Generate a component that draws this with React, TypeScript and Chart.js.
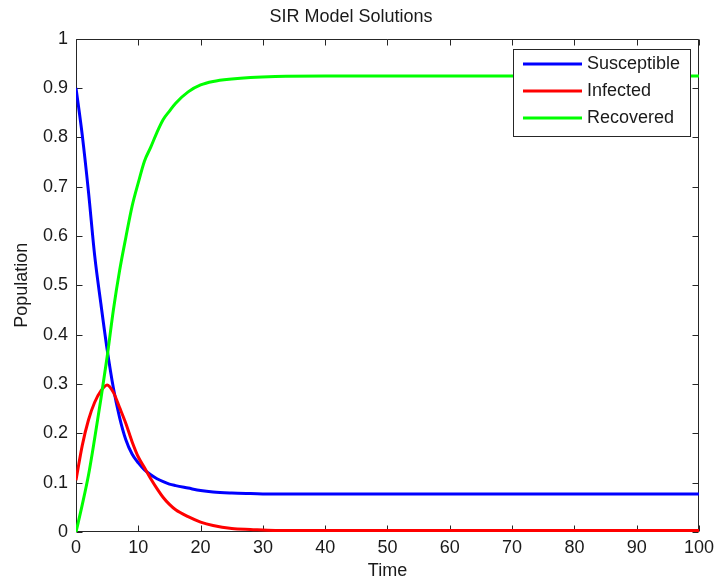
import React, { useEffect, useRef } from "react";
import { Chart, registerables } from "chart.js";

Chart.register(...registerables);

const chartTitle = "SIR Model Solutions";
const xAxisTitle = "Time";
const yAxisTitle = "Population";

const timePoints = [0, 1, 2, 3, 4, 5, 6, 7, 8, 9, 10, 11, 12, 13, 14, 15, 16, 18, 20, 22, 25, 28, 32, 40, 50, 60, 70, 80, 90, 100];
const susceptible = [0.9, 0.805, 0.69, 0.56, 0.462, 0.37, 0.292, 0.232, 0.187, 0.158, 0.14, 0.126, 0.116, 0.108, 0.102, 0.097, 0.094, 0.089, 0.084, 0.081, 0.079, 0.078, 0.077, 0.077, 0.077, 0.077, 0.077, 0.077, 0.077, 0.077];
const infected = [0.105, 0.175, 0.227, 0.263, 0.286, 0.298, 0.283, 0.252, 0.22, 0.183, 0.152, 0.13, 0.108, 0.088, 0.07, 0.056, 0.045, 0.031, 0.02, 0.013, 0.007, 0.005, 0.003, 0.003, 0.003, 0.003, 0.003, 0.003, 0.003, 0.003];
const recovered = [0, 0.055, 0.115, 0.19, 0.27, 0.355, 0.45, 0.53, 0.597, 0.66, 0.708, 0.752, 0.78, 0.81, 0.836, 0.853, 0.869, 0.892, 0.906, 0.913, 0.918, 0.921, 0.923, 0.924, 0.924, 0.924, 0.924, 0.924, 0.924, 0.924];

const seriesLabels = ["Susceptible", "Infected", "Recovered"];
const seriesColors = ["#0000ff", "#ff0000", "#00ff00"];

const xTicks = [0, 10, 20, 30, 40, 50, 60, 70, 80, 90, 100];
const yTicks = [0, 0.1, 0.2, 0.3, 0.4, 0.5, 0.6, 0.7, 0.8, 0.9, 1];

const FONT_FAMILY = "'Liberation Sans', Arial, Helvetica, sans-serif";
const TEXT_COLOR = "#1a1a1a";
const AXIS_COLOR = "#262626";

const framePlugin = {
  id: "matlabFrame",
  beforeDatasetsDraw(chart: any) {
    const { ctx, chartArea, scales } = chart;
    const { left, top, right, bottom } = chartArea;
    const L = Math.round(left) + 0.5;
    const R = Math.round(right) - 0.5;
    const T = Math.round(top) + 0.5;
    const B = Math.round(bottom) - 0.5;
    const tickLen = 6;
    ctx.save();
    ctx.strokeStyle = AXIS_COLOR;
    ctx.lineWidth = 1;
    ctx.beginPath();
    ctx.rect(L, T, R - L, B - T);
    for (const v of xTicks) {
      const px = Math.round(scales.x.getPixelForValue(v)) + 0.5;
      ctx.moveTo(px, B);
      ctx.lineTo(px, B - tickLen);
      ctx.moveTo(px, T);
      ctx.lineTo(px, T + tickLen);
    }
    for (const v of yTicks) {
      const py = Math.round(scales.y.getPixelForValue(v)) + 0.5;
      ctx.moveTo(L, py);
      ctx.lineTo(L + tickLen, py);
      ctx.moveTo(R, py);
      ctx.lineTo(R - tickLen, py);
    }
    ctx.stroke();
    ctx.restore();
  },
  afterDatasetsDraw(chart: any) {
    const { ctx, chartArea } = chart;
    const { right, top } = chartArea;
    ctx.save();
    ctx.font = `18px ${FONT_FAMILY}`;
    const textW = Math.max(...seriesLabels.map((s) => ctx.measureText(s).width));
    const padL = 10;
    const lineLen = 59;
    const gap = 5;
    const padR = 10;
    const rowH = 27;
    const boxW = padL + lineLen + gap + textW + padR;
    const boxH = 87;
    const boxRight = Math.round(right) - 9;
    const boxTop = Math.round(top) + 10;
    const boxLeft = Math.round(boxRight - boxW);
    ctx.fillStyle = "#ffffff";
    ctx.fillRect(boxLeft, boxTop, boxRight - boxLeft, boxH);
    ctx.strokeStyle = AXIS_COLOR;
    ctx.lineWidth = 1;
    ctx.strokeRect(boxLeft + 0.5, boxTop + 0.5, boxRight - boxLeft, boxH);
    seriesLabels.forEach((label, i) => {
      const cy = boxTop + 15 + i * rowH;
      ctx.strokeStyle = seriesColors[i];
      ctx.lineWidth = 3;
      ctx.beginPath();
      ctx.moveTo(boxLeft + padL, cy);
      ctx.lineTo(boxLeft + padL + lineLen, cy);
      ctx.stroke();
      ctx.fillStyle = TEXT_COLOR;
      ctx.textAlign = "left";
      ctx.textBaseline = "middle";
      ctx.fillText(label, boxLeft + padL + lineLen + gap, cy);
    });
    ctx.restore();
  },
};

export default function App() {
  const canvasRef = useRef<HTMLCanvasElement | null>(null);

  useEffect(() => {
    document.body.style.margin = "0";
    const canvas = canvasRef.current;
    if (!canvas) return;
    const seriesValues = [susceptible, infected, recovered];
    const chart = new Chart(canvas, {
      type: "line",
      data: {
        datasets: seriesLabels.map((label, i) => ({
          label,
          data: timePoints.map((t, k) => ({ x: t, y: seriesValues[i][k] })),
          borderColor: seriesColors[i],
          backgroundColor: seriesColors[i],
          borderWidth: 3,
          pointRadius: 0,
          fill: false,
          cubicInterpolationMode: "monotone" as const,
          order: 3 - i,
        })),
      },
      options: {
        animation: false,
        responsive: false,
        devicePixelRatio: 1,
        layout: { padding: { top: 0, left: 0, right: 17, bottom: 0 } },
        plugins: {
          legend: { display: false },
          tooltip: { enabled: false },
          title: {
            display: true,
            text: chartTitle,
            color: TEXT_COLOR,
            font: { family: FONT_FAMILY, size: 18, weight: "normal" as const },
            padding: { top: 6.4, bottom: 10.6 },
          },
        },
        scales: {
          x: {
            type: "linear",
            min: 0,
            max: 100,
            grid: { display: false, drawTicks: false },
            border: { display: false },
            afterBuildTicks: (scale: any) => {
              scale.ticks = xTicks.map((v) => ({ value: v }));
            },
            afterFit: (scale: any) => {
              scale.height = 51;
            },
            ticks: {
              autoSkip: false,
              maxRotation: 0,
              padding: 5,
              color: TEXT_COLOR,
              font: { family: FONT_FAMILY, size: 18 },
              callback: (v: any) => String(v),
            },
            title: {
              display: true,
              text: xAxisTitle,
              color: TEXT_COLOR,
              font: { family: FONT_FAMILY, size: 18 },
              padding: { top: 0, bottom: 1.2 },
            },
          },
          y: {
            type: "linear",
            min: 0,
            max: 1,
            grid: { display: false, drawTicks: false },
            border: { display: false },
            afterBuildTicks: (scale: any) => {
              scale.ticks = yTicks.map((v) => ({ value: v }));
            },
            afterFit: (scale: any) => {
              scale.width = 76;
            },
            ticks: {
              autoSkip: false,
              padding: 8,
              color: TEXT_COLOR,
              font: { family: FONT_FAMILY, size: 18 },
              callback: (v: any) => String(Number(Number(v).toFixed(1))),
            },
            title: {
              display: true,
              text: yAxisTitle,
              color: TEXT_COLOR,
              font: { family: FONT_FAMILY, size: 18 },
              padding: { top: 11, bottom: 0 },
            },
          },
        },
      },
      plugins: [framePlugin],
    });
    return () => chart.destroy();
  }, []);

  return (
    <div style={{ width: 719, height: 583, background: "#ffffff" }}>
      <canvas ref={canvasRef} width={719} height={583} style={{ display: "block" }} />
    </div>
  );
}
